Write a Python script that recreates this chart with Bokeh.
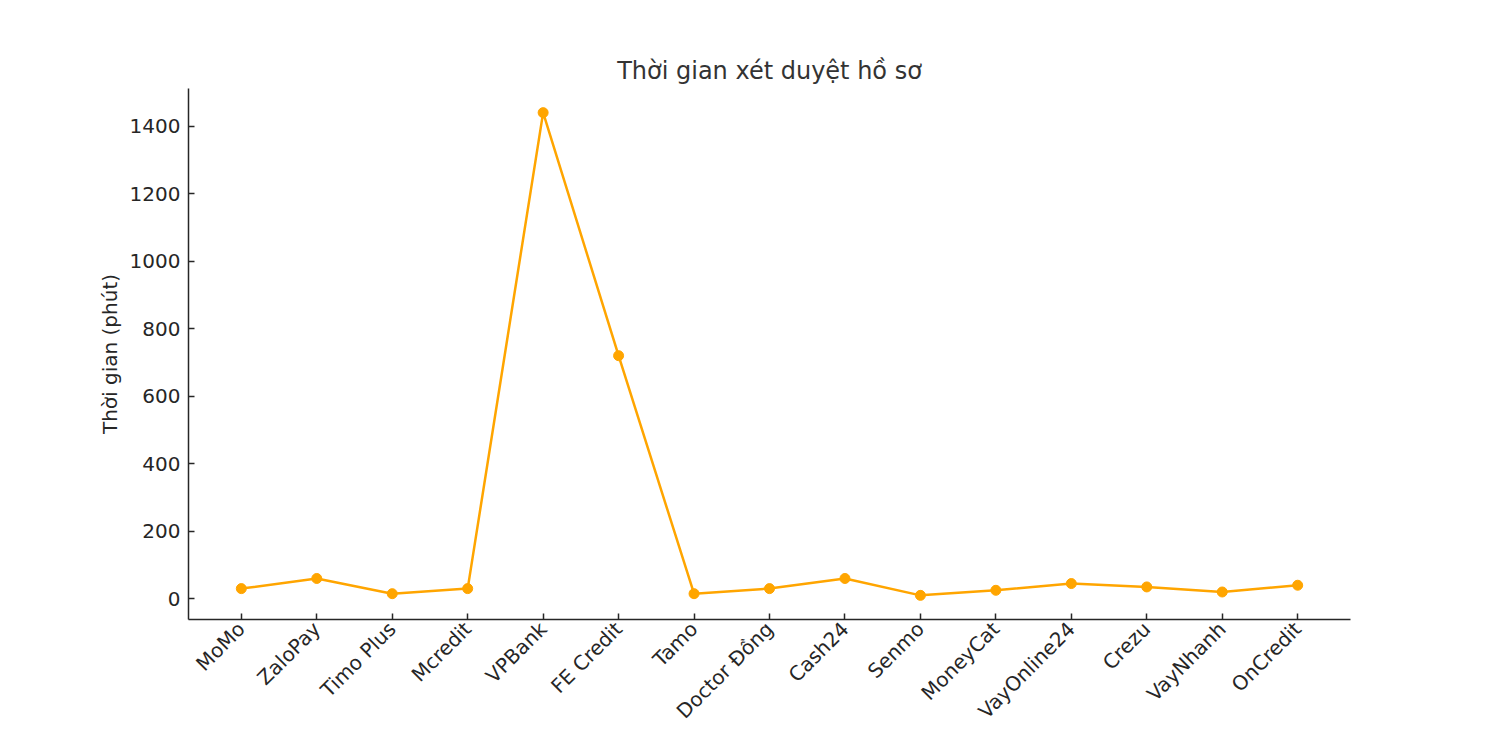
import math
from bokeh.plotting import figure
from bokeh.models import Range1d, FixedTicker, ColumnDataSource
from bokeh.embed import file_html
from bokeh.resources import INLINE

apps = ["MoMo", "ZaloPay", "Timo Plus", "Mcredit", "VPBank", "FE Credit", "Tamo",
        "Doctor Đồng", "Cash24", "Senmo", "MoneyCat", "VayOnline24", "Crezu",
        "VayNhanh", "OnCredit"]
minutes = [30, 60, 15, 30, 1440, 720, 15, 30, 60, 10, 25, 45, 35, 20, 40]
y_ticks = [0, 200, 400, 600, 800, 1000, 1200, 1400]

FONT = "DejaVu Sans"
TXT = "#262626"
ORANGE = "#FFA500"
FS = 20  # px

xs = list(range(len(apps)))
span = max(minutes) - min(minutes)
y0 = min(minutes) - 0.05 * span
y1 = max(minutes) + 0.05 * span

src = ColumnDataSource(dict(x=xs, y=minutes))

p = figure(width=1484, height=734, output_backend="svg", toolbar_location=None,
           x_range=Range1d(-0.7, len(apps) - 1 + 0.7),
           y_range=Range1d(y0, y1),
           min_border_left=188, min_border_right=134, min_border_top=88, min_border_bottom=40,
           title="Thời gian xét duyệt hồ sơ")

p.line("x", "y", source=src, line_color=ORANGE, line_width=2.5)
p.scatter("x", "y", source=src, size=10, fill_color=ORANGE, line_color=ORANGE)

p.title.align = "center"
p.title.text_font = FONT
p.title.text_font_size = "24px"
p.title.text_font_style = "normal"
p.title.text_color = "#333333"
p.title.standoff = 8

p.outline_line_color = None
p.grid.grid_line_color = None
p.background_fill_color = "white"
p.border_fill_color = "white"

xa = p.xaxis[0]
xa.ticker = FixedTicker(ticks=xs)
xa.major_label_overrides = {i: a for i, a in enumerate(apps)}
xa.major_label_orientation = math.pi / 4
ya = p.yaxis[0]
ya.ticker = FixedTicker(ticks=y_ticks)
ya.axis_label = "Thời gian (phút)"

for ax in (xa, ya):
    ax.axis_line_color = TXT
    ax.axis_line_width = 1.5
    ax.major_tick_line_color = TXT
    ax.major_tick_line_width = 1.5
    ax.major_tick_in = 6
    ax.major_tick_out = 0
    ax.minor_tick_line_color = None
    ax.major_label_text_font = FONT
    ax.major_label_text_font_size = f"{FS}px"
    ax.major_label_text_color = TXT
    ax.major_label_standoff = 8
    ax.axis_label_text_font = FONT
    ax.axis_label_text_font_size = f"{FS}px"
    ax.axis_label_text_font_style = "normal"
    ax.axis_label_text_color = TXT
    ax.axis_label_standoff = 5

xa.major_label_standoff = 6

open("out.html", "w").write(file_html(p, INLINE))
